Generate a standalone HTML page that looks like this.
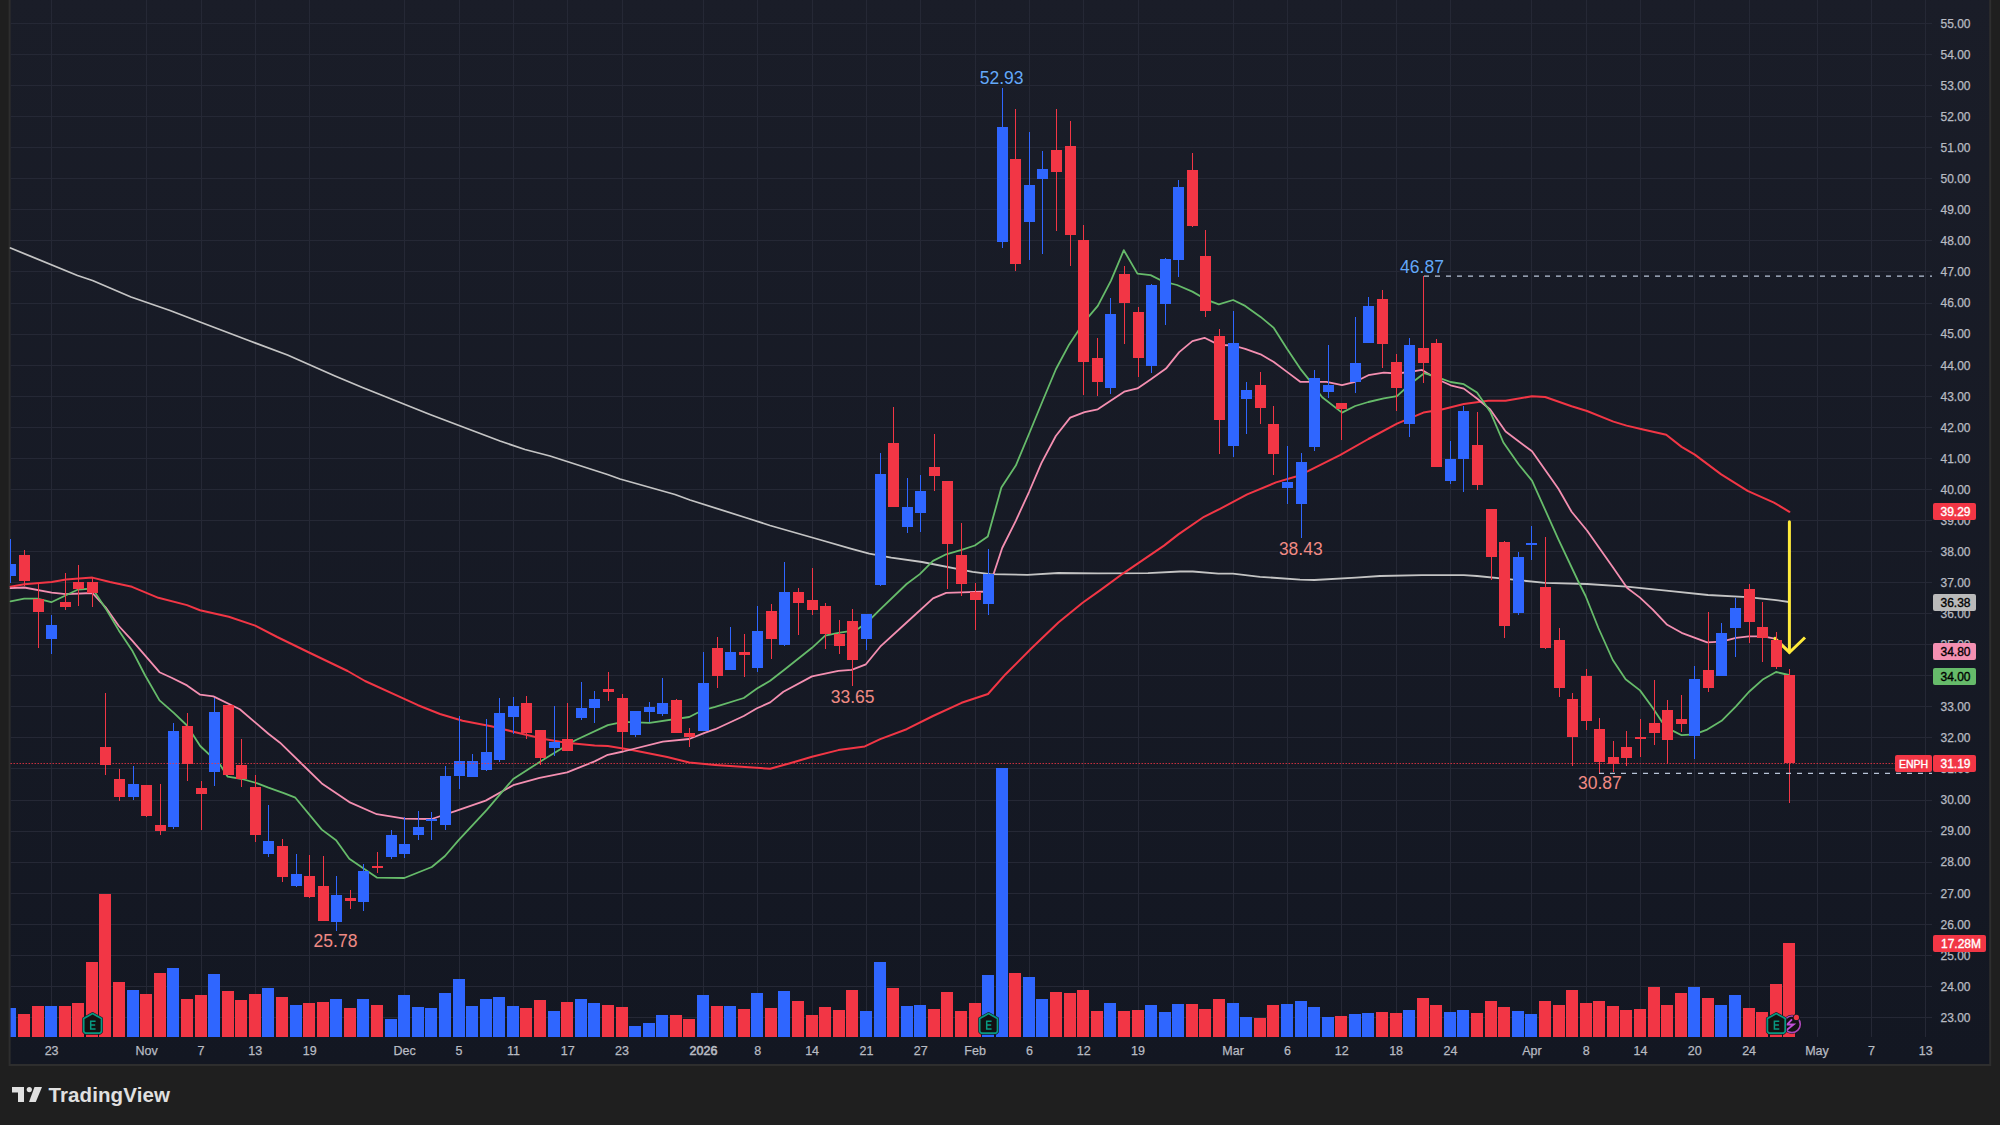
<!DOCTYPE html><html><head><meta charset="utf-8"><style>html,body{margin:0;padding:0;background:#1f1f1f;width:2000px;height:1125px;overflow:hidden}svg{display:block}text{font-family:"Liberation Sans", sans-serif}</style></head><body>
<svg width="2000" height="1125" viewBox="0 0 2000 1125">
<rect x="0" y="0" width="2000" height="1125" fill="#1f1f1f"/>
<defs><linearGradient id="bgg" x1="0" y1="0" x2="0" y2="1"><stop offset="0" stop-color="#1a1d28"/><stop offset="1" stop-color="#131722"/></linearGradient></defs>
<rect x="9.6" y="-5" width="1980.6" height="1070" fill="url(#bgg)" stroke="#2e2e2e" stroke-width="2"/>
<path d="M10.6 1017.5H1932 M10.6 986.5H1932 M10.6 955.5H1932 M10.6 924.5H1932 M10.6 893.5H1932 M10.6 862.5H1932 M10.6 831.5H1932 M10.6 800.5H1932 M10.6 768.5H1932 M10.6 737.5H1932 M10.6 706.5H1932 M10.6 675.5H1932 M10.6 644.5H1932 M10.6 613.5H1932 M10.6 582.5H1932 M10.6 551.5H1932 M10.6 520.5H1932 M10.6 489.5H1932 M10.6 458.5H1932 M10.6 427.5H1932 M10.6 396.5H1932 M10.6 365.5H1932 M10.6 334.5H1932 M10.6 303.5H1932 M10.6 271.5H1932 M10.6 240.5H1932 M10.6 209.5H1932 M10.6 178.5H1932 M10.6 147.5H1932 M10.6 116.5H1932 M10.6 85.5H1932 M10.6 54.5H1932 M10.6 23.5H1932 M51.5 0V1037 M146.5 0V1037 M201.5 0V1037 M255.5 0V1037 M309.5 0V1037 M404.5 0V1037 M459.5 0V1037 M513.5 0V1037 M567.5 0V1037 M622.5 0V1037 M703.5 0V1037 M757.5 0V1037 M812.5 0V1037 M866.5 0V1037 M920.5 0V1037 M975.5 0V1037 M1029.5 0V1037 M1083.5 0V1037 M1138.5 0V1037 M1233.5 0V1037 M1287.5 0V1037 M1341.5 0V1037 M1396.5 0V1037 M1450.5 0V1037 M1531.5 0V1037 M1586.5 0V1037 M1640.5 0V1037 M1694.5 0V1037 M1749.5 0V1037 M1817.5 0V1037 M1871.5 0V1037 M1925.5 0V1037" stroke="#252835" stroke-width="1" fill="none"/>
<path d="M10.6 1008H16.0V1037H10.6Z M45.0 1006H57.0V1037H45.0Z M127.0 990H139.0V1037H127.0Z M167.0 968H179.0V1037H167.0Z M208.0 974H220.0V1037H208.0Z M262.0 988H274.0V1037H262.0Z M290.0 1005H302.0V1037H290.0Z M330.0 999H342.0V1037H330.0Z M357.0 999H369.0V1037H357.0Z M385.0 1019H397.0V1037H385.0Z M398.0 995H410.0V1037H398.0Z M412.0 1007H424.0V1037H412.0Z M425.0 1008H437.0V1037H425.0Z M439.0 993H451.0V1037H439.0Z M453.0 979H465.0V1037H453.0Z M466.0 1006H478.0V1037H466.0Z M480.0 999H492.0V1037H480.0Z M493.0 997H505.0V1037H493.0Z M507.0 1006H519.0V1037H507.0Z M548.0 1011H560.0V1037H548.0Z M575.0 999H587.0V1037H575.0Z M588.0 1003H600.0V1037H588.0Z M629.0 1026H641.0V1037H629.0Z M643.0 1023H655.0V1037H643.0Z M656.0 1015H668.0V1037H656.0Z M697.0 995H709.0V1037H697.0Z M724.0 1006H736.0V1037H724.0Z M751.0 993H763.0V1037H751.0Z M778.0 991H790.0V1037H778.0Z M860.0 1011H872.0V1037H860.0Z M874.0 962H886.0V1037H874.0Z M901.0 1006H913.0V1037H901.0Z M914.0 1005H926.0V1037H914.0Z M982.0 975H994.0V1037H982.0Z M996.0 768H1008.0V1037H996.0Z M1023.0 977H1035.0V1037H1023.0Z M1036.0 999H1048.0V1037H1036.0Z M1104.0 1003H1116.0V1037H1104.0Z M1145.0 1005H1157.0V1037H1145.0Z M1159.0 1012H1171.0V1037H1159.0Z M1172.0 1004H1184.0V1037H1172.0Z M1227.0 1003H1239.0V1037H1227.0Z M1240.0 1017H1252.0V1037H1240.0Z M1281.0 1004H1293.0V1037H1281.0Z M1295.0 1001H1307.0V1037H1295.0Z M1308.0 1007H1320.0V1037H1308.0Z M1322.0 1017H1334.0V1037H1322.0Z M1349.0 1014H1361.0V1037H1349.0Z M1362.0 1013H1374.0V1037H1362.0Z M1403.0 1010H1415.0V1037H1403.0Z M1444.0 1012H1456.0V1037H1444.0Z M1457.0 1010H1469.0V1037H1457.0Z M1512.0 1011H1524.0V1037H1512.0Z M1525.0 1014H1537.0V1037H1525.0Z M1688.0 987H1700.0V1037H1688.0Z M1715.0 1005H1727.0V1037H1715.0Z M1729.0 995H1741.0V1037H1729.0Z" fill="#2f66ff"/>
<path d="M18.0 1014H30.0V1037H18.0Z M32.0 1006H44.0V1037H32.0Z M59.0 1006H71.0V1037H59.0Z M72.0 1003H84.0V1037H72.0Z M86.0 962H98.0V1037H86.0Z M99.0 894H111.0V1037H99.0Z M113.0 982H125.0V1037H113.0Z M140.0 994H152.0V1037H140.0Z M154.0 973H166.0V1037H154.0Z M181.0 999H193.0V1037H181.0Z M195.0 995H207.0V1037H195.0Z M222.0 991H234.0V1037H222.0Z M235.0 1000H247.0V1037H235.0Z M249.0 994H261.0V1037H249.0Z M276.0 997H288.0V1037H276.0Z M303.0 1003H315.0V1037H303.0Z M317.0 1002H329.0V1037H317.0Z M344.0 1008H356.0V1037H344.0Z M371.0 1005H383.0V1037H371.0Z M520.0 1008H532.0V1037H520.0Z M534.0 1000H546.0V1037H534.0Z M561.0 1002H573.0V1037H561.0Z M602.0 1005H614.0V1037H602.0Z M616.0 1007H628.0V1037H616.0Z M670.0 1015H682.0V1037H670.0Z M683.0 1019H695.0V1037H683.0Z M711.0 1006H723.0V1037H711.0Z M738.0 1009H750.0V1037H738.0Z M765.0 1008H777.0V1037H765.0Z M792.0 1001H804.0V1037H792.0Z M806.0 1015H818.0V1037H806.0Z M819.0 1007H831.0V1037H819.0Z M833.0 1010H845.0V1037H833.0Z M846.0 990H858.0V1037H846.0Z M887.0 988H899.0V1037H887.0Z M928.0 1009H940.0V1037H928.0Z M941.0 992H953.0V1037H941.0Z M955.0 1011H967.0V1037H955.0Z M969.0 1003H981.0V1037H969.0Z M1009.0 973H1021.0V1037H1009.0Z M1050.0 992H1062.0V1037H1050.0Z M1064.0 993H1076.0V1037H1064.0Z M1077.0 990H1089.0V1037H1077.0Z M1091.0 1011H1103.0V1037H1091.0Z M1118.0 1011H1130.0V1037H1118.0Z M1132.0 1010H1144.0V1037H1132.0Z M1186.0 1004H1198.0V1037H1186.0Z M1199.0 1009H1211.0V1037H1199.0Z M1213.0 999H1225.0V1037H1213.0Z M1254.0 1018H1266.0V1037H1254.0Z M1267.0 1005H1279.0V1037H1267.0Z M1335.0 1016H1347.0V1037H1335.0Z M1376.0 1012H1388.0V1037H1376.0Z M1390.0 1013H1402.0V1037H1390.0Z M1417.0 998H1429.0V1037H1417.0Z M1430.0 1005H1442.0V1037H1430.0Z M1471.0 1013H1483.0V1037H1471.0Z M1485.0 1001H1497.0V1037H1485.0Z M1498.0 1007H1510.0V1037H1498.0Z M1539.0 1001H1551.0V1037H1539.0Z M1553.0 1005H1565.0V1037H1553.0Z M1566.0 990H1578.0V1037H1566.0Z M1580.0 1003H1592.0V1037H1580.0Z M1593.0 1001H1605.0V1037H1593.0Z M1607.0 1006H1619.0V1037H1607.0Z M1620.0 1010H1632.0V1037H1620.0Z M1634.0 1009H1646.0V1037H1634.0Z M1648.0 987H1660.0V1037H1648.0Z M1661.0 1005H1673.0V1037H1661.0Z M1675.0 993H1687.0V1037H1675.0Z M1702.0 998H1714.0V1037H1702.0Z M1743.0 1008H1755.0V1037H1743.0Z M1756.0 1012H1768.0V1037H1756.0Z M1770.0 984H1782.0V1037H1770.0Z M1783.0 943H1795.0V1037H1783.0Z" fill="#f23645"/>
<path d="M10.5 248.0 L77.5 275.5 L92.5 280.5 L131.0 297.0 L170.0 310.5 L200.0 322.0 L250.0 341.0 L287.5 355.0 L335.0 376.0 L362.5 387.5 L430.0 414.5 L500.0 441.0 L525.0 449.5 L550.0 456.0 L607.5 474.5 L620.0 479.0 L675.0 494.5 L690.0 500.0 L750.0 519.0 L770.0 525.5 L820.8 540.0 L851.6 548.8 L869.2 553.6 L891.2 557.6 L922.0 562.0 L972.6 571.9 L990.2 574.1 L1027.6 574.8 L1058.4 573.0 L1098.0 573.4 L1148.0 573.1 L1180.0 571.5 L1192.8 571.5 L1218.4 573.6 L1232.8 573.6 L1260.0 576.8 L1300.0 579.7 L1314.4 580.0 L1356.0 577.6 L1380.0 576.0 L1422.0 575.2 L1463.8 575.2 L1477.0 576.0 L1505.6 578.9 L1545.2 582.9 L1587.0 584.0 L1626.6 586.6 L1666.2 590.6 L1708.0 595.0 L1747.6 597.2 L1774.0 599.8 L1789.0 602.0" stroke="#c4c4c4" stroke-width="1.8" fill="none" stroke-linejoin="round" stroke-linecap="round"/>
<path d="M10.6 586.8 L24.2 584.2 L51.7 582.0 L66.0 579.4 L92.4 577.6 L110.0 582.0 L132.0 586.8 L158.4 597.8 L187.0 605.1 L200.0 610.2 L228.8 616.8 L255.2 625.6 L277.2 637.0 L308.0 652.0 L347.6 671.0 L365.0 681.0 L402.6 698.2 L418.0 705.2 L440.0 714.0 L462.6 720.7 L491.2 726.2 L513.2 731.7 L544.0 739.0 L566.0 742.7 L594.6 745.6 L607.8 746.0 L632.0 750.0 L667.2 757.0 L689.2 762.5 L715.2 764.9 L770.2 768.8 L790.0 763.3 L812.0 756.7 L838.4 750.1 L864.8 746.4 L880.2 739.1 L906.6 729.2 L933.0 716.0 L961.6 702.8 L988.0 694.0 L1005.6 674.2 L1032.0 647.8 L1058.4 622.5 L1082.6 602.7 L1100.0 590.4 L1124.0 572.8 L1164.0 545.6 L1178.4 534.4 L1204.0 516.8 L1220.0 508.8 L1247.2 494.4 L1276.0 482.4 L1295.2 476.8 L1308.0 471.2 L1340.0 455.2 L1368.4 439.0 L1397.0 423.6 L1423.4 412.6 L1441.8 409.5 L1463.8 404.0 L1488.0 400.7 L1505.6 400.7 L1532.0 396.3 L1545.2 397.0 L1571.6 406.2 L1587.0 411.0 L1613.4 421.6 L1626.6 425.6 L1642.0 429.3 L1666.2 434.8 L1681.6 446.9 L1694.8 454.6 L1721.2 474.4 L1747.6 490.9 L1774.0 502.6 L1789.4 511.8" stroke="#f23645" stroke-width="2" fill="none" stroke-linejoin="round" stroke-linecap="round"/>
<path d="M10.6 588.2 L24.2 587.5 L51.7 592.6 L66.0 594.1 L92.4 593.0 L105.6 607.3 L118.8 626.0 L132.0 640.3 L159.5 672.2 L171.6 677.7 L187.0 685.4 L200.2 694.7 L213.4 696.4 L239.8 709.2 L268.4 733.8 L280.0 742.7 L301.4 763.5 L321.8 783.4 L349.3 802.1 L376.8 814.2 L404.3 818.6 L431.8 819.0 L456.0 810.9 L485.7 800.6 L513.2 785.2 L539.6 777.9 L567.1 772.4 L594.6 761.4 L607.8 754.8 L623.2 751.5 L662.8 741.6 L689.2 739.0 L704.6 732.8 L715.2 729.2 L743.8 716.0 L757.0 708.3 L770.2 702.4 L783.4 691.8 L812.0 676.4 L838.4 670.9 L851.6 669.8 L865.9 664.3 L880.2 646.7 L906.6 622.5 L933.0 598.3 L946.2 592.8 L961.6 592.4 L987.8 591.5 L1002.2 548.0 L1015.8 520.8 L1029.0 492.0 L1041.4 463.2 L1055.8 436.0 L1070.2 417.6 L1084.6 412.2 L1097.8 409.3 L1124.2 391.7 L1137.4 388.4 L1150.6 379.6 L1166.0 368.6 L1179.2 352.1 L1192.4 341.1 L1204.5 337.8 L1218.8 344.9 L1233.1 345.5 L1245.2 348.8 L1260.6 354.3 L1273.8 362.0 L1287.0 371.9 L1300.2 381.8 L1326.6 381.8 L1342.0 385.1 L1355.2 381.8 L1368.4 375.2 L1383.8 372.6 L1397.0 373.5 L1410.2 371.9 L1422.0 369.9 L1438.5 379.8 L1450.6 385.3 L1463.8 388.6 L1477.0 398.5 L1490.2 409.5 L1505.6 431.5 L1532.0 451.3 L1558.4 488.7 L1571.6 511.8 L1587.0 530.5 L1613.4 567.9 L1627.2 588.0 L1640.0 597.6 L1652.8 609.6 L1667.2 624.8 L1681.6 632.8 L1707.2 642.4 L1721.6 641.6 L1736.0 637.9 L1748.8 636.3 L1763.2 636.3 L1776.0 638.9 L1789.0 651.0" stroke="#f48fb1" stroke-width="1.8" fill="none" stroke-linejoin="round" stroke-linecap="round"/>
<path d="M10.6 601.4 L24.2 598.7 L37.4 598.7 L51.3 602.2 L66.0 595.2 L78.1 589.5 L92.4 588.6 L105.6 608.4 L118.8 630.4 L132.0 650.2 L145.2 675.5 L159.5 700.4 L173.8 712.9 L187.0 725.5 L200.2 746.0 L220.0 764.6 L227.7 776.7 L242.0 779.0 L257.4 783.3 L268.4 787.7 L283.8 793.2 L295.4 797.7 L321.8 829.6 L336.1 840.2 L349.3 858.7 L376.8 877.6 L404.3 878.0 L431.8 867.0 L445.0 856.0 L458.2 840.6 L486.8 809.8 L513.2 779.0 L544.0 759.2 L574.8 740.5 L607.8 725.1 L623.2 721.8 L649.6 722.9 L689.2 717.0 L702.0 710.5 L715.2 706.8 L743.8 698.0 L757.0 688.5 L770.2 680.8 L785.6 668.7 L812.0 647.8 L825.2 635.7 L838.4 632.8 L856.0 630.2 L867.0 622.5 L880.2 609.3 L906.6 584.0 L919.8 574.1 L933.0 560.9 L946.2 554.3 L961.6 549.9 L974.8 545.5 L987.8 536.5 L1001.4 487.5 L1015.8 465.6 L1029.4 433.0 L1042.6 401.0 L1056.0 369.0 L1069.2 344.4 L1084.6 321.3 L1097.8 305.9 L1111.0 280.6 L1123.8 250.2 L1137.4 273.6 L1150.6 275.1 L1163.8 281.7 L1177.0 285.0 L1192.4 291.6 L1205.6 299.3 L1218.8 304.4 L1233.1 300.0 L1245.2 305.9 L1260.6 316.9 L1273.8 327.9 L1287.0 348.8 L1300.2 368.6 L1309.0 379.6 L1322.2 397.2 L1342.0 412.6 L1355.2 406.0 L1368.4 402.0 L1383.8 398.3 L1397.0 396.1 L1410.2 384.0 L1424.2 373.2 L1438.5 377.6 L1450.6 382.0 L1463.8 384.2 L1477.0 392.6 L1490.2 411.7 L1503.4 442.5 L1518.8 464.5 L1532.0 480.6 L1558.4 539.3 L1577.6 580.0 L1585.6 596.0 L1598.4 628.0 L1612.8 660.0 L1625.6 679.2 L1640.0 690.4 L1652.8 708.0 L1662.4 722.4 L1672.0 730.4 L1681.6 735.2 L1694.4 734.4 L1707.2 729.6 L1721.6 720.8 L1736.0 706.4 L1748.8 692.0 L1763.2 679.2 L1776.0 672.0 L1788.8 675.0" stroke="#66bb6a" stroke-width="1.8" fill="none" stroke-linejoin="round" stroke-linecap="round"/>
<path d="M1789.4 521.7V652" stroke="#ffeb3b" stroke-width="3" stroke-linecap="round" fill="none"/>
<path d="M1774 637.5L1789.4 652.5L1805 637.5" stroke="#ffeb3b" stroke-width="3" stroke-linecap="butt" fill="none"/>
<path d="M10.6 564.0H16.0V576.0H10.6Z M10 539.0H11V583.0H10Z M46.0 625.0H57.0V639.0H46.0Z M51 615.0H52V654.0H51Z M128.0 784.0H139.0V797.0H128.0Z M133 766.0H134V800.0H133Z M168.0 731.0H179.0V827.0H168.0Z M173 723.0H174V829.0H173Z M209.0 712.0H220.0V772.0H209.0Z M214 698.0H215V786.0H214Z M263.0 841.0H274.0V854.0H263.0Z M268 805.0H269V857.0H268Z M291.0 874.0H302.0V886.0H291.0Z M296 854.0H297V887.0H296Z M331.0 895.0H342.0V922.0H331.0Z M336 876.0H337V931.0H336Z M358.0 871.0H369.0V902.0H358.0Z M363 864.0H364V911.0H363Z M386.0 835.0H397.0V857.0H386.0Z M391 830.0H392V859.0H391Z M399.0 844.0H410.0V854.0H399.0Z M404 817.0H405V858.0H404Z M413.0 827.0H424.0V835.0H413.0Z M418 811.0H419V840.0H418Z M426.0 819.0H437.0V821.0H426.0Z M431 812.0H432V840.0H431Z M440.0 776.0H451.0V825.0H440.0Z M445 766.0H446V830.0H445Z M454.0 761.0H465.0V776.0H454.0Z M459 716.0H460V789.0H459Z M467.0 761.0H478.0V777.0H467.0Z M472 754.0H473V777.0H472Z M481.0 752.0H492.0V770.0H481.0Z M486 719.0H487V771.0H486Z M494.0 713.0H505.0V760.0H494.0Z M499 698.0H500V762.0H499Z M508.0 706.0H519.0V717.0H508.0Z M513 697.0H514V734.0H513Z M549.0 742.0H560.0V748.0H549.0Z M554 706.0H555V756.0H554Z M576.0 708.0H587.0V718.0H576.0Z M581 682.0H582V720.0H581Z M589.0 699.0H600.0V708.0H589.0Z M594 691.0H595V723.0H594Z M630.0 711.0H641.0V735.0H630.0Z M635 711.0H636V737.0H635Z M644.0 707.0H655.0V712.0H644.0Z M649 702.0H650V722.0H649Z M657.0 703.0H668.0V714.0H657.0Z M662 678.0H663V716.0H662Z M698.0 683.0H709.0V731.0H698.0Z M703 652.0H704V731.0H703Z M725.0 652.0H736.0V670.0H725.0Z M730 627.0H731V670.0H730Z M752.0 631.0H763.0V668.0H752.0Z M757 606.0H758V672.0H757Z M779.0 592.0H790.0V645.0H779.0Z M784 562.0H785V646.0H784Z M861.0 614.0H872.0V639.0H861.0Z M866 614.0H867V650.0H866Z M875.0 474.0H886.0V585.0H875.0Z M880 453.0H881V586.0H880Z M902.0 507.0H913.0V527.0H902.0Z M907 478.0H908V533.0H907Z M915.0 491.0H926.0V513.0H915.0Z M920 475.0H921V532.0H920Z M983.0 574.0H994.0V604.0H983.0Z M988 549.0H989V615.0H988Z M997.0 127.0H1008.0V242.0H997.0Z M1002 88.0H1003V248.0H1002Z M1024.0 185.0H1035.0V222.0H1024.0Z M1029 132.0H1030V260.0H1029Z M1037.0 169.0H1048.0V179.0H1037.0Z M1042 151.0H1043V254.0H1042Z M1105.0 314.0H1116.0V388.0H1105.0Z M1110 298.0H1111V394.0H1110Z M1146.0 285.0H1157.0V366.0H1146.0Z M1151 284.0H1152V373.0H1151Z M1160.0 259.0H1171.0V304.0H1160.0Z M1165 258.0H1166V325.0H1165Z M1173.0 187.0H1184.0V260.0H1173.0Z M1178 180.0H1179V277.0H1178Z M1228.0 343.0H1239.0V446.0H1228.0Z M1233 311.0H1234V457.0H1233Z M1241.0 390.0H1252.0V399.0H1241.0Z M1246 382.0H1247V434.0H1246Z M1282.0 482.0H1293.0V488.0H1282.0Z M1287 446.0H1288V504.0H1287Z M1296.0 462.0H1307.0V504.0H1296.0Z M1301 453.0H1302V538.0H1301Z M1309.0 378.0H1320.0V447.0H1309.0Z M1314 370.0H1315V451.0H1314Z M1323.0 385.0H1334.0V392.0H1323.0Z M1328 345.0H1329V398.0H1328Z M1350.0 363.0H1361.0V382.0H1350.0Z M1355 317.0H1356V393.0H1355Z M1363.0 306.0H1374.0V343.0H1363.0Z M1368 297.0H1369V343.0H1368Z M1404.0 345.0H1415.0V424.0H1404.0Z M1409 338.0H1410V437.0H1409Z M1445.0 459.0H1456.0V481.0H1445.0Z M1450 441.0H1451V484.0H1450Z M1458.0 411.0H1469.0V459.0H1458.0Z M1463 406.0H1464V492.0H1463Z M1513.0 557.0H1524.0V613.0H1513.0Z M1518 552.0H1519V615.0H1518Z M1526.0 543.0H1537.0V545.0H1526.0Z M1531 526.0H1532V560.0H1531Z M1689.0 679.0H1700.0V736.0H1689.0Z M1694 666.0H1695V759.0H1694Z M1716.0 633.0H1727.0V676.0H1716.0Z M1721 623.0H1722V676.0H1721Z M1730.0 608.0H1741.0V628.0H1730.0Z M1735 598.0H1736V657.0H1735Z" fill="#2f66ff"/>
<path d="M19.0 555.0H30.0V581.0H19.0Z M24 550.0H25V586.0H24Z M33.0 599.0H44.0V612.0H33.0Z M38 583.0H39V648.0H38Z M60.0 602.0H71.0V607.0H60.0Z M65 573.0H66V610.0H65Z M73.0 582.0H84.0V589.0H73.0Z M78 565.0H79V606.0H78Z M87.0 582.0H98.0V593.0H87.0Z M92 578.0H93V607.0H92Z M100.0 747.0H111.0V765.0H100.0Z M105 693.0H106V775.0H105Z M114.0 779.0H125.0V797.0H114.0Z M119 769.0H120V801.0H119Z M141.0 785.0H152.0V816.0H141.0Z M146 785.0H147V817.0H146Z M155.0 825.0H166.0V831.0H155.0Z M160 784.0H161V835.0H160Z M182.0 726.0H193.0V764.0H182.0Z M187 713.0H188V781.0H187Z M196.0 788.0H207.0V794.0H196.0Z M201 781.0H202V830.0H201Z M223.0 705.0H234.0V775.0H223.0Z M228 705.0H229V775.0H228Z M236.0 765.0H247.0V779.0H236.0Z M241 739.0H242V787.0H241Z M250.0 787.0H261.0V835.0H250.0Z M255 775.0H256V842.0H255Z M277.0 846.0H288.0V877.0H277.0Z M282 839.0H283V882.0H282Z M304.0 876.0H315.0V897.0H304.0Z M309 855.0H310V898.0H309Z M318.0 886.0H329.0V921.0H318.0Z M323 856.0H324V921.0H323Z M345.0 898.0H356.0V901.0H345.0Z M350 890.0H351V909.0H350Z M372.0 866.0H383.0V868.0H372.0Z M377 852.0H378V873.0H377Z M521.0 703.0H532.0V733.0H521.0Z M526 696.0H527V739.0H526Z M535.0 730.0H546.0V758.0H535.0Z M540 730.0H541V765.0H540Z M562.0 739.0H573.0V751.0H562.0Z M567 703.0H568V751.0H567Z M603.0 689.0H614.0V692.0H603.0Z M608 672.0H609V701.0H608Z M617.0 698.0H628.0V732.0H617.0Z M622 694.0H623V751.0H622Z M671.0 700.0H682.0V733.0H671.0Z M676 699.0H677V733.0H676Z M684.0 733.0H695.0V737.0H684.0Z M689 728.0H690V747.0H689Z M712.0 648.0H723.0V676.0H712.0Z M717 637.0H718V688.0H717Z M739.0 652.0H750.0V655.0H739.0Z M744 634.0H745V677.0H744Z M766.0 611.0H777.0V639.0H766.0Z M771 604.0H772V659.0H771Z M793.0 592.0H804.0V603.0H793.0Z M798 588.0H799V635.0H798Z M807.0 600.0H818.0V610.0H807.0Z M812 568.0H813V615.0H812Z M820.0 606.0H831.0V634.0H820.0Z M825 603.0H826V649.0H825Z M834.0 634.0H845.0V646.0H834.0Z M839 620.0H840V654.0H839Z M847.0 621.0H858.0V660.0H847.0Z M852 609.0H853V686.0H852Z M888.0 443.0H899.0V507.0H888.0Z M893 407.0H894V507.0H893Z M929.0 467.0H940.0V476.0H929.0Z M934 434.0H935V491.0H934Z M942.0 481.0H953.0V544.0H942.0Z M947 481.0H948V589.0H947Z M956.0 555.0H967.0V584.0H956.0Z M961 523.0H962V596.0H961Z M970.0 592.0H981.0V600.0H970.0Z M975 583.0H976V630.0H975Z M1010.0 159.0H1021.0V264.0H1010.0Z M1015 109.0H1016V271.0H1015Z M1051.0 150.0H1062.0V172.0H1051.0Z M1056 109.0H1057V231.0H1056Z M1065.0 146.0H1076.0V235.0H1065.0Z M1070 121.0H1071V266.0H1070Z M1078.0 240.0H1089.0V362.0H1078.0Z M1083 225.0H1084V395.0H1083Z M1092.0 358.0H1103.0V382.0H1092.0Z M1097 338.0H1098V396.0H1097Z M1119.0 274.0H1130.0V303.0H1119.0Z M1124 266.0H1125V344.0H1124Z M1133.0 312.0H1144.0V358.0H1133.0Z M1138 307.0H1139V377.0H1138Z M1187.0 170.0H1198.0V226.0H1187.0Z M1192 153.0H1193V227.0H1192Z M1200.0 256.0H1211.0V311.0H1200.0Z M1205 230.0H1206V317.0H1205Z M1214.0 336.0H1225.0V420.0H1214.0Z M1219 329.0H1220V454.0H1219Z M1255.0 385.0H1266.0V408.0H1255.0Z M1260 372.0H1261V424.0H1260Z M1268.0 424.0H1279.0V454.0H1268.0Z M1273 406.0H1274V475.0H1273Z M1336.0 403.0H1347.0V409.0H1336.0Z M1341 403.0H1342V440.0H1341Z M1377.0 299.0H1388.0V344.0H1377.0Z M1382 290.0H1383V368.0H1382Z M1391.0 362.0H1402.0V388.0H1391.0Z M1396 354.0H1397V411.0H1396Z M1418.0 348.0H1429.0V363.0H1418.0Z M1423 276.0H1424V383.0H1423Z M1431.0 343.0H1442.0V467.0H1431.0Z M1436 339.0H1437V467.0H1436Z M1472.0 445.0H1483.0V485.0H1472.0Z M1477 412.0H1478V490.0H1477Z M1486.0 509.0H1497.0V557.0H1486.0Z M1491 509.0H1492V580.0H1491Z M1499.0 542.0H1510.0V626.0H1499.0Z M1504 541.0H1505V638.0H1504Z M1540.0 587.0H1551.0V648.0H1540.0Z M1545 537.0H1546V649.0H1545Z M1554.0 640.0H1565.0V688.0H1554.0Z M1559 628.0H1560V697.0H1559Z M1567.0 699.0H1578.0V737.0H1567.0Z M1572 693.0H1573V766.0H1572Z M1581.0 676.0H1592.0V721.0H1581.0Z M1586 669.0H1587V730.0H1586Z M1594.0 729.0H1605.0V762.0H1594.0Z M1599 718.0H1600V773.0H1599Z M1608.0 757.0H1619.0V764.0H1608.0Z M1613 741.0H1614V772.0H1613Z M1621.0 747.0H1632.0V758.0H1621.0Z M1626 731.0H1627V766.0H1626Z M1635.0 737.0H1646.0V739.0H1635.0Z M1640 719.0H1641V757.0H1640Z M1649.0 723.0H1660.0V733.0H1649.0Z M1654 680.0H1655V745.0H1654Z M1662.0 710.0H1673.0V740.0H1662.0Z M1667 700.0H1668V764.0H1667Z M1676.0 719.0H1687.0V724.0H1676.0Z M1681 695.0H1682V732.0H1681Z M1703.0 670.0H1714.0V688.0H1703.0Z M1708 612.0H1709V692.0H1708Z M1744.0 589.0H1755.0V622.0H1744.0Z M1749 584.0H1750V643.0H1749Z M1757.0 627.0H1768.0V638.0H1757.0Z M1762 602.0H1763V662.0H1762Z M1771.0 640.0H1782.0V667.0H1771.0Z M1776 632.0H1777V669.0H1776Z M1784.0 675.0H1795.0V763.0H1784.0Z M1789 669.0H1790V803.0H1789Z" fill="#f23645"/>
<line x1="10.6" y1="763.5" x2="1895" y2="763.5" stroke="#f23645" stroke-width="1.2" stroke-dasharray="1.2 1.8"/>
<line x1="1424" y1="276.2" x2="1932" y2="276.2" stroke="#b8c4d8" stroke-width="1.3" stroke-dasharray="5 6"/>
<line x1="1599" y1="773.4" x2="1932" y2="773.4" stroke="#b8c4d8" stroke-width="1.3" stroke-dasharray="5 6"/>
<text x="1001.7" y="84" fill="#64a8f8" font-size="17.5" text-anchor="middle" stroke="#161a25" stroke-width="2.5" paint-order="stroke">52.93</text>
<text x="1422" y="272.5" fill="#64a8f8" font-size="17.5" text-anchor="middle" stroke="#161a25" stroke-width="2.5" paint-order="stroke">46.87</text>
<text x="335.5" y="947" fill="#f08a84" font-size="17.5" text-anchor="middle" stroke="#161a25" stroke-width="2.5" paint-order="stroke">25.78</text>
<text x="852.7" y="703" fill="#f08a84" font-size="17.5" text-anchor="middle" stroke="#161a25" stroke-width="2.5" paint-order="stroke">33.65</text>
<text x="1300.8" y="555" fill="#f08a84" font-size="17.5" text-anchor="middle" stroke="#161a25" stroke-width="2.5" paint-order="stroke">38.43</text>
<text x="1599.9" y="788.5" fill="#f08a84" font-size="17.5" text-anchor="middle" stroke="#161a25" stroke-width="2.5" paint-order="stroke">30.87</text>
<circle cx="1792" cy="1024.3" r="9.6" fill="#121212"/>
<circle cx="1792" cy="1024.3" r="8.3" fill="#121212" stroke="#ab47bc" stroke-width="1.6"/>
<path d="M1792 1019.4L1787 1024.5H1793.7L1787 1029.8" stroke="#c050d8" stroke-width="1.8" fill="none" stroke-linejoin="miter"/>
<circle cx="1796.4" cy="1017.4" r="3.5" fill="#161a25"/>
<circle cx="1796.4" cy="1017.4" r="2.6" fill="#f23645"/>
<polygon points="83.69999999999999,1018.6 92.6,1013.6 101.5,1018.6 101.5,1031.6 99.89999999999999,1033.2 85.3,1033.2 83.69999999999999,1031.6" fill="#121212" stroke="#161a25" stroke-width="3" stroke-linejoin="round"/><polygon points="83.69999999999999,1018.6 92.6,1013.6 101.5,1018.6 101.5,1031.6 99.89999999999999,1033.2 85.3,1033.2 83.69999999999999,1031.6" fill="#121212" stroke="#089981" stroke-width="1.7" stroke-linejoin="round"/><path d="M95.6 1021.3H90.7V1028.9H95.6M90.7 1025.1H95.2" stroke="#089981" stroke-width="1.5" fill="none"/>
<polygon points="979.7,1018.6 988.6,1013.6 997.5,1018.6 997.5,1031.6 995.9,1033.2 981.3000000000001,1033.2 979.7,1031.6" fill="#121212" stroke="#161a25" stroke-width="3" stroke-linejoin="round"/><polygon points="979.7,1018.6 988.6,1013.6 997.5,1018.6 997.5,1031.6 995.9,1033.2 981.3000000000001,1033.2 979.7,1031.6" fill="#121212" stroke="#089981" stroke-width="1.7" stroke-linejoin="round"/><path d="M991.6 1021.3H986.7V1028.9H991.6M986.7 1025.1H991.2" stroke="#089981" stroke-width="1.5" fill="none"/>
<polygon points="1767.3999999999999,1018.6 1776.3,1013.6 1785.2,1018.6 1785.2,1031.6 1783.6,1033.2 1769.0,1033.2 1767.3999999999999,1031.6" fill="#121212" stroke="#161a25" stroke-width="3" stroke-linejoin="round"/><polygon points="1767.3999999999999,1018.6 1776.3,1013.6 1785.2,1018.6 1785.2,1031.6 1783.6,1033.2 1769.0,1033.2 1767.3999999999999,1031.6" fill="#121212" stroke="#089981" stroke-width="1.7" stroke-linejoin="round"/><path d="M1779.3 1021.3H1774.4V1028.9H1779.3M1774.4 1025.1H1778.9" stroke="#089981" stroke-width="1.5" fill="none"/>
<g fill="#b8bbc2" stroke="#b8bbc2" stroke-width="0.25" font-size="12"><text x="1970.5" y="1021.7" text-anchor="end">23.00</text><text x="1970.5" y="990.7" text-anchor="end">24.00</text><text x="1970.5" y="959.6" text-anchor="end">25.00</text><text x="1970.5" y="928.5" text-anchor="end">26.00</text><text x="1970.5" y="897.5" text-anchor="end">27.00</text><text x="1970.5" y="866.4" text-anchor="end">28.00</text><text x="1970.5" y="835.4" text-anchor="end">29.00</text><text x="1970.5" y="804.3" text-anchor="end">30.00</text><text x="1970.5" y="773.2" text-anchor="end">31.00</text><text x="1970.5" y="742.2" text-anchor="end">32.00</text><text x="1970.5" y="711.1" text-anchor="end">33.00</text><text x="1970.5" y="680.1" text-anchor="end">34.00</text><text x="1970.5" y="649.0" text-anchor="end">35.00</text><text x="1970.5" y="617.9" text-anchor="end">36.00</text><text x="1970.5" y="586.9" text-anchor="end">37.00</text><text x="1970.5" y="555.8" text-anchor="end">38.00</text><text x="1970.5" y="524.8" text-anchor="end">39.00</text><text x="1970.5" y="493.7" text-anchor="end">40.00</text><text x="1970.5" y="462.6" text-anchor="end">41.00</text><text x="1970.5" y="431.6" text-anchor="end">42.00</text><text x="1970.5" y="400.5" text-anchor="end">43.00</text><text x="1970.5" y="369.5" text-anchor="end">44.00</text><text x="1970.5" y="338.4" text-anchor="end">45.00</text><text x="1970.5" y="307.3" text-anchor="end">46.00</text><text x="1970.5" y="276.3" text-anchor="end">47.00</text><text x="1970.5" y="245.2" text-anchor="end">48.00</text><text x="1970.5" y="214.2" text-anchor="end">49.00</text><text x="1970.5" y="183.1" text-anchor="end">50.00</text><text x="1970.5" y="152.0" text-anchor="end">51.00</text><text x="1970.5" y="121.0" text-anchor="end">52.00</text><text x="1970.5" y="89.9" text-anchor="end">53.00</text><text x="1970.5" y="58.9" text-anchor="end">54.00</text><text x="1970.5" y="27.8" text-anchor="end">55.00</text></g>
<rect x="1933" y="503" width="43" height="17" rx="2" fill="#f23645"/><text x="1970.5" y="515.7" fill="#ffffff" stroke="#ffffff" stroke-width="0.35" font-size="12" text-anchor="end">39.29</text>
<rect x="1933" y="594" width="43" height="17" rx="2" fill="#bababa"/><text x="1970.5" y="606.7" fill="#000000" stroke="#000000" stroke-width="0.35" font-size="12" text-anchor="end">36.38</text>
<rect x="1933" y="643" width="43" height="17" rx="2" fill="#f48fb1"/><text x="1970.5" y="655.7" fill="#000000" stroke="#000000" stroke-width="0.35" font-size="12" text-anchor="end">34.80</text>
<rect x="1933" y="668" width="43" height="17" rx="2" fill="#66bb6a"/><text x="1970.5" y="680.7" fill="#000000" stroke="#000000" stroke-width="0.35" font-size="12" text-anchor="end">34.00</text>
<rect x="1933" y="755" width="43" height="17" rx="2" fill="#f23645"/><text x="1970.5" y="767.7" fill="#ffffff" stroke="#ffffff" stroke-width="0.35" font-size="12" text-anchor="end">31.19</text>
<rect x="1895" y="755" width="37" height="17" rx="2" fill="#f23645"/><text x="1913.5" y="767.6" fill="#ffffff" stroke="#ffffff" stroke-width="0.35" font-size="10.5" text-anchor="middle">ENPH</text>
<rect x="1933" y="935" width="53" height="17" rx="2" fill="#f23645"/><text x="1981" y="947.7" fill="#ffffff" stroke="#ffffff" stroke-width="0.35" font-size="12" text-anchor="end">17.28M</text>
<g fill="#b8bbc2" stroke="#b8bbc2" stroke-width="0.25" font-size="12.5"><text x="51.6" y="1055" text-anchor="middle">23</text><text x="146.7" y="1055" text-anchor="middle">Nov</text><text x="201.0" y="1055" text-anchor="middle">7</text><text x="255.3" y="1055" text-anchor="middle">13</text><text x="309.7" y="1055" text-anchor="middle">19</text><text x="404.7" y="1055" text-anchor="middle">Dec</text><text x="459.0" y="1055" text-anchor="middle">5</text><text x="513.4" y="1055" text-anchor="middle">11</text><text x="567.7" y="1055" text-anchor="middle">17</text><text x="622.0" y="1055" text-anchor="middle">23</text><text x="703.5" y="1055" text-anchor="middle" stroke-width="0.6">2026</text><text x="757.8" y="1055" text-anchor="middle">8</text><text x="812.1" y="1055" text-anchor="middle">14</text><text x="866.4" y="1055" text-anchor="middle">21</text><text x="920.8" y="1055" text-anchor="middle">27</text><text x="975.1" y="1055" text-anchor="middle">Feb</text><text x="1029.4" y="1055" text-anchor="middle">6</text><text x="1083.7" y="1055" text-anchor="middle">12</text><text x="1138.0" y="1055" text-anchor="middle">19</text><text x="1233.1" y="1055" text-anchor="middle">Mar</text><text x="1287.4" y="1055" text-anchor="middle">6</text><text x="1341.7" y="1055" text-anchor="middle">12</text><text x="1396.1" y="1055" text-anchor="middle">18</text><text x="1450.4" y="1055" text-anchor="middle">24</text><text x="1531.9" y="1055" text-anchor="middle">Apr</text><text x="1586.2" y="1055" text-anchor="middle">8</text><text x="1640.5" y="1055" text-anchor="middle">14</text><text x="1694.8" y="1055" text-anchor="middle">20</text><text x="1749.1" y="1055" text-anchor="middle">24</text><text x="1817.0" y="1055" text-anchor="middle">May</text><text x="1871.4" y="1055" text-anchor="middle">7</text><text x="1925.7" y="1055" text-anchor="middle">13</text></g>
<g fill="#e0e0e0"><path d="M12 1087H24V1102H18V1092.5H12Z"/><circle cx="29.3" cy="1089.6" r="2.6"/><path d="M34.5 1087H42L35.8 1102H29Z"/><text x="48.5" y="1102" font-size="20.5" font-weight="bold" letter-spacing="0.1">TradingView</text></g>
</svg></body></html>
